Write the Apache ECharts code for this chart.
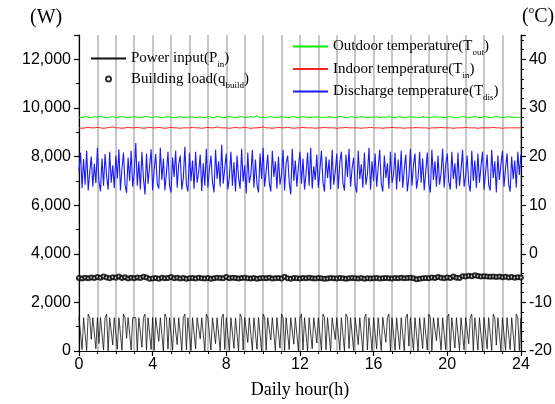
<!DOCTYPE html>
<html><head><meta charset="utf-8">
<script src="https://cdn.jsdelivr.net/npm/echarts@6/dist/echarts.min.js"></script>
<style>html,body{margin:0;padding:0;background:#fff}#c{width:555px;height:404px}</style>
</head><body><div id="c"></div>
<script>
// Sampling steps (minutes)
const powerStepMin = 5;
const dischargeStepMin = 5;
const slowStepMin = 10;

const xTicks = [0, 4, 8, 12, 16, 20, 24];
const leftTicks = [0, 2000, 4000, 6000, 8000, 10000, 12000];
const rightTicks = [-20, -10, 0, 10, 20, 30, 40];

const seriesNames = ['Power input', 'Building load', 'Outdoor temperature', 'Indoor temperature', 'Discharge temperature'];
const seriesSubs = ['in', 'build', 'out', 'in', 'dis'];
const seriesSymbols = ['P', 'q', 'T', 'T', 'T'];

// Power input (W), 5-min
const powerInput = [
1370,1380,60,1370,1370,20,1520,1370,480,1370,1370,90,
1370,310,1380,1370,40,1370,1520,10,1370,1370,250,1370,
1370,70,1370,1370,30,1520,1370,520,1370,1380,40,1370,
1370,1370,10,1370,1370,150,1370,1520,30,1370,1370,60,
1380,20,1370,1370,400,1370,1370,0,1520,1370,80,1370,
1370,30,1370,1370,260,1370,1380,10,1370,1520,50,1370,
1370,20,1370,1370,90,1370,1370,500,1370,1370,0,1520,
1370,1370,40,1370,1370,300,1370,1370,10,1370,1520,60,
1370,1370,20,1370,1380,110,1370,1370,0,1520,1370,40,
1370,1370,350,1370,1370,20,1370,1370,70,1380,1370,0,
1520,1370,30,1370,1370,450,1370,1370,10,1370,1370,120,
1520,1370,20,1370,1370,60,1370,1370,280,1370,1380,0,
1370,1520,40,1370,1370,10,1370,1370,90,1370,1370,330,
1370,1370,20,1520,1370,50,1370,1370,0,1370,1370,470,
1370,1380,30,1370,1370,10,1520,1370,100,1370,1370,20,
1370,1370,260,1370,1370,0,1370,1520,40,1370,1370,10,
1370,1370,80,1370,1370,20,1380,1370,360,1370,1520,0,
1370,1370,30,1370,1370,70,1370,1370,10,1370,1520,200,
1370,1370,20,1370,1370,0,1370,1380,90,1370,1370,40,
1520,1370,10,1370,1370,420,1370,1370,30,1370,1370,60,
1370,1520,0,1370,1370,120,1370,1370,20,1370,1380,50,
1370,1370,300,1370,1520,10,1370,1370,40,1370,1370,0,
1370,1370,80,1370,1370,20,1520,1370,240,1370,1370,10,
1370,1380,30,1370,1370,60,1370,1370,0,1520,1370,20,
1370];

// Discharge temperature (°C), 5-min
const dischargeTemp = [
17.0,20.8,13.5,19.5,14.2,21.2,13.0,16.8,20.0,13.8,18.5,14.5,
21.8,15.0,12.8,19.6,14.0,20.5,16.0,13.2,21.0,14.6,18.2,13.5,
20.2,15.5,21.5,13.0,17.5,20.8,14.2,12.5,19.8,15.0,21.2,13.8,
16.5,22.8,14.0,19.0,13.2,21.0,15.5,12.2,20.6,14.4,18.0,21.5,
13.0,17.2,20.5,14.5,13.4,21.8,15.2,19.6,13.0,16.8,21.0,14.0,
12.6,19.8,15.8,21.2,13.6,18.4,20.2,13.2,15.6,22.0,14.2,12.8,
20.8,15.0,19.2,13.4,21.0,14.6,16.8,20.4,12.9,18.6,14.0,21.6,
13.6,17.4,20.2,14.8,12.6,21.4,15.4,19.0,13.8,22.4,14.4,17.6,
20.6,13.2,15.8,21.0,14.0,18.8,12.8,20.2,15.6,13.4,21.6,14.8,
18.2,12.4,20.8,14.6,16.2,21.4,13.6,19.4,14.2,12.6,20.6,15.4,
21.8,13.8,17.0,20.4,14.6,12.8,21.2,15.8,19.0,13.4,20.0,14.2,
16.4,21.4,13.0,18.6,20.2,14.8,12.2,21.6,15.0,19.2,13.8,17.8,
21.0,14.4,19.6,13.2,16.6,20.8,14.0,21.8,13.4,18.0,15.2,20.4,
13.6,17.2,21.2,14.8,12.8,20.0,15.6,19.4,13.2,21.4,14.2,16.8,
20.6,13.4,18.8,21.0,14.6,13.0,20.4,15.8,21.6,13.8,17.6,19.8,
14.0,12.6,21.2,15.4,18.4,13.6,20.8,14.2,16.4,21.8,13.2,19.0,
15.0,20.6,13.8,17.8,21.4,14.4,12.8,20.2,15.6,18.6,13.4,21.0,
14.6,16.2,20.8,13.2,19.4,14.8,21.2,13.6,17.4,20.4,12.8,15.8,
21.6,14.0,18.2,20.6,13.4,15.6,21.0,14.6,19.6,13.0,17.0,20.8,
14.4,12.6,21.4,15.2,19.0,13.8,20.2,14.2,16.6,21.6,13.6,18.4,
20.6,14.8,13.2,21.0,15.4,18.6,13.4,20.8,14.0,17.2,21.4,13.8,
16.0,20.2,14.4,12.8,21.2,15.0,19.2,13.6,20.6,14.6,18.0,21.0,
13.2,16.8,20.4,14.2,13.0,21.4,15.6,19.0,12.6,20.2,15.2,18.4,
21.2,13.8,17.6,20.6,14.4,12.8,20.0,15.4,19.2,13.6,21.0,16.2,
20.4];

// Outdoor temperature (°C), 10-min
const outdoorTemp = [
28.1,28.0,28.2,28.1,28.0,28.2, 28.1,28.3,28.1,28.0,28.1,28.2,
28.0,28.1,28.2,28.1,28.0,28.1, 28.2,28.1,28.0,28.1,28.3,28.1,
28.0,28.2,28.1,28.0,28.1,28.2, 28.1,28.0,28.1,28.2,28.0,28.1,
28.1,28.2,28.0,28.1,28.1,28.0, 28.2,28.1,28.0,28.3,28.1,28.0,
28.1,28.2,28.1,28.0,28.1,28.2, 28.0,28.1,28.2,28.1,28.4,28.0,
28.1,28.0,28.2,28.1,28.0,28.1, 28.2,28.1,28.0,28.1,28.2,28.0,
28.1,28.2,28.1,28.0,28.1,28.1, 28.2,28.0,28.1,28.1,28.2,28.0,
28.1,28.3,28.1,28.0,28.1,28.2, 28.0,28.1,28.2,28.1,28.0,28.1,
28.1,28.2,28.0,28.1,28.1,28.2, 28.1,28.0,28.2,28.1,28.0,28.1,
28.2,28.1,28.1,28.0,28.2,28.1, 28.0,28.1,28.2,28.1,28.1,28.0,
28.1,28.2,28.1,28.0,28.1,28.2, 28.1,28.0,28.1,28.2,28.1,28.0,
28.2,28.1,28.0,28.1,28.2,28.1, 28.0,28.1,28.2,28.1,28.0,28.1,
28.1];

// Indoor temperature (°C), 10-min
const indoorTemp = [
25.9,25.8,25.9,26.0,25.9,25.9, 26.0,25.9,25.8,25.9,26.0,26.1,
25.9,25.9,25.8,25.9,26.0,25.9, 25.9,26.0,25.9,25.8,25.9,26.0,
25.9,25.9,26.0,25.9,25.8,25.9, 26.0,25.9,25.9,25.8,25.9,25.9,
25.9,26.0,25.9,25.9,25.8,25.9, 26.0,25.9,25.9,26.1,25.9,25.9,
25.9,25.8,25.9,26.0,25.9,25.9, 26.0,25.9,25.8,25.9,25.9,26.0,
26.1,25.9,25.9,25.8,25.9,26.0, 25.9,25.9,26.0,25.9,25.8,25.9,
25.9,26.0,25.9,25.9,25.9,25.8, 25.9,25.9,26.0,25.9,25.9,25.9,
25.8,25.9,25.9,26.0,25.9,25.9, 25.9,25.9,25.8,25.9,25.9,26.0,
25.9,25.9,25.9,25.8,25.9,25.9, 26.0,25.9,25.9,25.9,25.8,25.9,
25.9,25.9,26.0,25.9,25.9,25.9, 25.8,25.9,25.9,25.9,26.0,25.9,
25.9,25.9,25.8,25.9,25.9,25.9, 26.0,25.9,25.9,25.9,25.8,25.9,
25.9,25.9,25.9,26.0,25.9,25.9, 25.8,25.9,25.9,25.9,25.9,25.9,
25.9];

// Building load (W), 10-min
const buildingLoad = [
3000,2980,3010,2990,3020,3000, 3040,3010,3060,3020,2990,3030,
3010,3060,3000,3030,2980,3010, 2990,3020,3000,3050,3020,2970,
2980,3000,2970,3010,2990,3000, 3040,2990,3010,2980,3000,2970,
2990,3000,2980,3010,2990,2980, 3000,2970,2990,3010,3000,2990,
3040,2990,3010,3000,2980,3000, 3010,2990,2980,3000,2970,2990,
3000,2990,3010,2980,2990,3000, 2980,3050,2990,2970,3000,2990,
2980,3000,2990,3010,2990,2980, 3000,2990,2970,2980,3000,2990,
2980,3000,2990,2970,2990,3000, 2990,2980,3000,2970,2990,2980,
2990,3000,2980,2990,3000,2990, 2980,3000,2990,3010,2990,3000,
3010,2990,2950,2970,2990,3000, 2990,3020,3000,3040,3010,2990,
3020,3000,3060,3010,3000,3080, 3060,3100,3080,3120,3090,3060,
3080,3060,3050,3070,3040,3060, 3030,3050,3020,3040,3010,3030,
3020];

function withHours(arr, stepMin) {
  return arr.map((v, i) => [i * stepMin / 60, v]);
}

const serif = '"Liberation Serif", "Times New Roman", serif';
const sans = '"Liberation Sans", Arial, sans-serif';

function legendLabel(name) {
  const i = seriesNames.indexOf(name);
  return '{a|' + name + '(' + seriesSymbols[i] + '}{s|' + seriesSubs[i] + '}{a|)}';
}
const legendRich = {
  a: { fontFamily: serif, fontSize: 15, color: '#000', lineHeight: 22, verticalAlign: 'middle' },
  s: { fontFamily: serif, fontSize: 9, color: '#000', lineHeight: 12, verticalAlign: 'bottom' }
};
const hideDot = { opacity: 0 };

const chart = echarts.init(document.getElementById('c'), null, { renderer: 'canvas' });
const gridColor = '#b4b4b4';
chart.setOption({
  animation: false,
  backgroundColor: '#fff',
  grid: { left: 79, right: 34, top: 35, bottom: 51 },
  xAxis: {
    type: 'value', min: xTicks[0], max: xTicks[xTicks.length - 1], interval: 4,
    axisLine: { show: true, onZero: false, lineStyle: { color: '#000', width: 1.2 } },
    axisTick: { show: true, length: 5, inside: false, lineStyle: { color: '#000', width: 1.2 } },
    minorTick: { show: true, splitNumber: 4, length: 3, lineStyle: { color: '#000', width: 1 } },
    splitLine: { show: true, lineStyle: { color: gridColor, width: 1.5 } },
    minorSplitLine: { show: true, lineStyle: { color: gridColor, width: 1.5 } },
    axisLabel: { fontFamily: sans, fontSize: 16, color: '#000', margin: 6 },
    name: 'Daily hour(h)', nameLocation: 'middle', nameGap: 30,
    nameTextStyle: { fontFamily: serif, fontSize: 18, color: '#000' }
  },
  yAxis: [{
    type: 'value', min: 0, max: 13000, interval: 2000, position: 'left',
    axisLine: { show: true, lineStyle: { color: '#000', width: 1.2 } },
    axisTick: { show: true, length: 5, lineStyle: { color: '#000', width: 1.2 } },
    minorTick: { show: true, splitNumber: 2, length: 3, lineStyle: { color: '#000', width: 1 } },
    splitLine: { show: false },
    axisLabel: { fontFamily: sans, fontSize: 16, color: '#000', margin: 8, showMaxLabel: false,
      formatter: v => leftTicks.includes(v) ? v.toLocaleString('en-US') : '' }
  }, {
    type: 'value', min: -20, max: 45, interval: 10, position: 'right',
    axisLine: { show: true, lineStyle: { color: '#000', width: 1.2 } },
    axisTick: { show: true, length: 5, lineStyle: { color: '#000', width: 1.2 } },
    minorTick: { show: true, splitNumber: 5, length: 3, lineStyle: { color: '#000', width: 1 } },
    splitLine: { show: false },
    axisLabel: { fontFamily: sans, fontSize: 16, color: '#000', margin: 8, showMaxLabel: false,
      formatter: v => rightTicks.includes(v) ? String(v) : '' }
  }],
  legend: [{
    orient: 'vertical', left: 85, top: 46, itemGap: 2, itemWidth: 35, itemHeight: 5,
    data: [{ name: seriesNames[0], itemStyle: hideDot },
           { name: seriesNames[1], itemStyle: { color: '#000', borderWidth: 1 } }],
    formatter: legendLabel, textStyle: { rich: legendRich }
  }, {
    orient: 'vertical', left: 287, top: 34, itemGap: 4, itemWidth: 35, itemHeight: 6,
    data: [{ name: seriesNames[2], itemStyle: hideDot }, { name: seriesNames[3], itemStyle: hideDot },
           { name: seriesNames[4], itemStyle: hideDot }],
    formatter: legendLabel, textStyle: { rich: legendRich }
  }],
  graphic: [{
    type: 'text', left: 30, top: 8,
    style: { text: '(W)', fontFamily: serif, fontSize: 20, fill: '#000' }
  }, {
    type: 'text', left: 522, top: 5,
    style: { text: '{a|(}{s|o}{a|C)}', rich: {
      a: { fontFamily: serif, fontSize: 20, fill: '#000', lineHeight: 22, verticalAlign: 'bottom' },
      s: { fontFamily: serif, fontSize: 11, fill: '#000', lineHeight: 12, verticalAlign: 'top' } } }
  }],
  series: [{
    name: seriesNames[0], type: 'line', yAxisIndex: 0, data: withHours(powerInput, powerStepMin),
    symbol: 'none', color: '#000', lineStyle: { color: '#111', width: 0.8 }, z: 3
  }, {
    name: seriesNames[1], type: 'scatter', yAxisIndex: 0, data: withHours(buildingLoad, slowStepMin),
    symbol: 'emptyCircle', symbolSize: 4, color: '#000',
    itemStyle: { color: '#000', borderColor: '#000', borderWidth: 0.7 }, z: 4
  }, {
    name: seriesNames[2], type: 'line', yAxisIndex: 1, data: withHours(outdoorTemp, slowStepMin),
    symbol: 'none', color: '#00ee00', lineStyle: { color: '#00ee00', width: 1 }
  }, {
    name: seriesNames[3], type: 'line', yAxisIndex: 1, data: withHours(indoorTemp, slowStepMin),
    symbol: 'none', color: '#ff2020', lineStyle: { color: '#ff2020', width: 1 }
  }, {
    name: seriesNames[4], type: 'line', yAxisIndex: 1, data: withHours(dischargeTemp, dischargeStepMin),
    symbol: 'none', color: '#1a1aff', lineStyle: { color: '#1a1aff', width: 1.1 }
  }]
});
</script></body></html>
